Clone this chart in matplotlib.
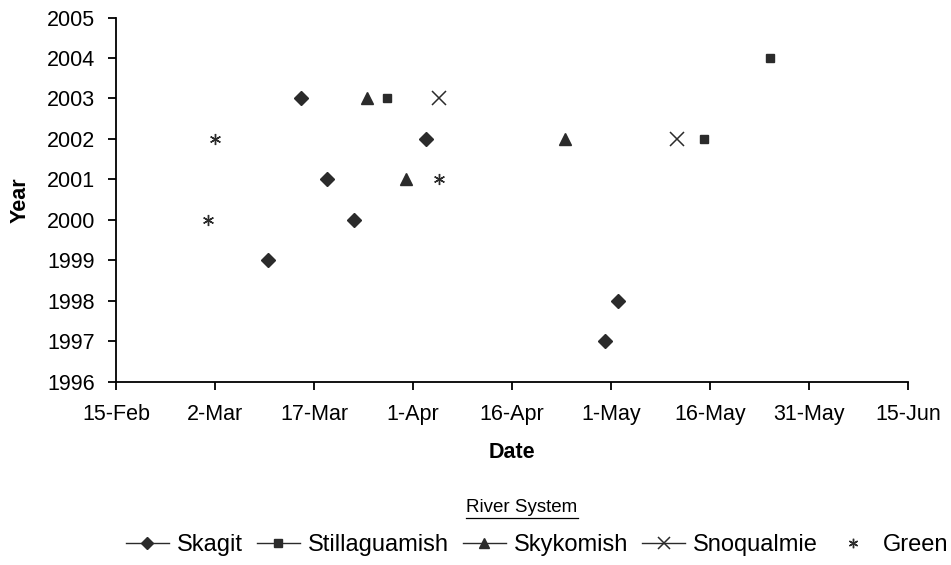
import datetime as dt
import matplotlib
matplotlib.use("Agg")
import matplotlib.pyplot as plt
from matplotlib.lines import Line2D

plt.rcParams['font.family'] = ['Liberation Sans', 'DejaVu Sans']

# Данные: даты (день-месяц) и годы по речным системам
skagit_dates = ['10-Mar', '15-Mar', '19-Mar', '23-Mar', '3-Apr', '30-Apr', '2-May']
skagit_years = [1999, 2003, 2001, 2000, 2002, 1997, 1998]

stilla_dates = ['28-Mar', '15-May', '25-May']
stilla_years = [2003, 2002, 2004]

skykom_dates = ['25-Mar', '31-Mar', '24-Apr']
skykom_years = [2003, 2001, 2002]

snoq_dates = ['5-Apr', '11-May']
snoq_years = [2003, 2002]

green_dates = ['1-Mar', '2-Mar', '5-Apr']
green_years = [2000, 2002, 2001]

x_ticks = ['15-Feb', '2-Mar', '17-Mar', '1-Apr', '16-Apr', '1-May', '16-May', '31-May', '15-Jun']


def to_date(s):
    return dt.datetime.strptime(s + '-2001', '%d-%b-%Y')


col = '#2b2b2b'
series = [
    ('Skagit', skagit_dates, skagit_years, dict(marker='D', ms=7)),
    ('Stillaguamish', stilla_dates, stilla_years, dict(marker='s', ms=6)),
    ('Skykomish', skykom_dates, skykom_years, dict(marker='^', ms=9)),
    ('Snoqualmie', snoq_dates, snoq_years, dict(marker='x', ms=10, mew=1.1)),
    ('Green', green_dates, green_years, dict(marker=(6, 2, 0), ms=8, mew=1.0)),
]

fig = plt.figure(figsize=(9.51, 5.65), dpi=100)
ax = fig.add_axes([0.122, 0.324, 0.833, 0.645])

handles = []
for name, ds, ys, st in series:
    ax.plot([to_date(d) for d in ds], ys, linestyle='none', color=col, **st)
    ls = 'none' if name == 'Green' else '-'
    handles.append(Line2D([], [], color=col, linestyle=ls, lw=1.0, label=name, **st))

ticks = [to_date(t) for t in x_ticks]
ax.set_xlim(ticks[0], ticks[-1])
ax.set_xticks(ticks)
ax.set_xticklabels(x_ticks)
ax.set_ylim(1996, 2005)
ax.set_yticks(range(1996, 2006))

for s in ['top', 'right']:
    ax.spines[s].set_visible(False)
for s in ['left', 'bottom']:
    ax.spines[s].set_linewidth(1.3)
ax.tick_params(labelsize=15.5, length=6, width=1.3)
ax.tick_params(axis='x', pad=10)
ax.tick_params(axis='y', pad=9)

ax.set_xlabel('Date', fontsize=15.5, fontweight='bold', labelpad=12)
ax.set_ylabel('Year', fontsize=15.5, fontweight='bold', labelpad=12)

# Заголовок легенды с подчёркиванием
t = fig.text(0.549, 0.101, 'River System', fontsize=13.5, ha='center', va='center')
fig.canvas.draw()
bb = t.get_window_extent().transformed(fig.transFigure.inverted())
fig.add_artist(Line2D([bb.x0, bb.x1], [bb.y0 - 0.002, bb.y0 - 0.002], color='black', lw=0.9))

fig.legend(handles=handles, loc='center', bbox_to_anchor=(0.565, 0.035), ncol=5,
           frameon=False, fontsize=17, handlelength=1.8, handletextpad=0.35,
           columnspacing=0.6, numpoints=1, markerscale=0.85, borderpad=0)

fig.savefig('out.png', dpi=100)
